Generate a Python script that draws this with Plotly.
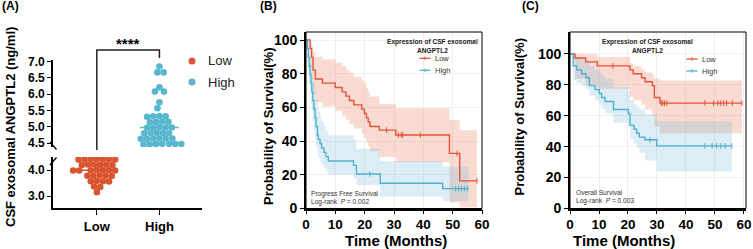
import numpy as np
import plotly.graph_objects as go

W, H = 753, 249
FONT = "Liberation Sans, Arial, sans-serif"

# ---------------- Panel A data ----------------
groups = ["Low", "High"]
low_vals = [4.42, 4.42, 4.41, 4.41, 4.41, 4.40, 4.40,
            4.21, 4.21, 4.20, 4.20, 4.19, 4.19,
            4.00, 3.99, 3.99, 3.99, 3.98, 3.98, 3.98,
            3.79, 3.78, 3.78, 3.78, 3.77,
            3.58, 3.57, 3.57, 3.56,
            3.37, 3.35,
            3.15]
high_vals = [6.85, 6.67, 6.67, 6.21, 6.08, 6.08, 5.75, 5.57,
             5.33, 5.32, 5.32, 5.31,
             5.16, 5.15, 5.15, 5.14,
             4.99, 4.98, 4.98, 4.98, 4.97,
             4.82, 4.81, 4.81, 4.80, 4.80,
             4.65, 4.64, 4.64, 4.64, 4.63, 4.63,
             4.48, 4.48, 4.47, 4.47, 4.47, 4.46, 4.46]
a_lower_ticks = [3.0, 4.0]
a_upper_ticks = [4.5, 5.0, 5.5, 6.0, 6.5, 7.0]

# ---------------- Panel B data (PFS) ----------------
b_low_t = [0, 1.4, 1.9, 2.4, 3.2, 5.6, 10.0, 12.3, 13.6, 14.8, 16.3, 19.0, 19.9, 20.6, 21.2, 21.8, 25.0, 30.6, 48.9, 52.4]
b_low_s = [100, 95.0, 89.7, 82.1, 76.9, 74.4, 71.8, 69.2, 66.7, 64.1, 61.5, 59.0, 56.4, 53.8, 51.3, 48.7, 46.5, 43.6, 32.7, 16.4]
b_low_up = [100, 100, 97, 93, 90, 88.5, 86.5, 84.5, 82.5, 80.5, 78, 76, 74, 71.5, 69, 66.5, 62, 59.5, 52.5, 46.5]
b_low_lo = [100, 84, 76, 68, 63, 60.5, 58, 55, 52.5, 50, 47.5, 44.5, 42, 39.5, 37, 34, 30.5, 27.5, 3.5, 0.8]
b_low_end = 58.3
b_low_cens = [27.5, 31.5, 32.5, 33.0, 39.0, 51.5, 58.3]

b_high_t = [0, 0.5, 0.8, 1.1, 1.4, 1.7, 2.0, 2.3, 2.7, 3.1, 3.4, 3.9, 4.2, 4.8, 5.3, 6.1, 6.8, 7.6, 16.2, 17.2, 25.3, 46.6]
b_high_s = [100, 94.9, 89.7, 84.6, 79.5, 74.4, 69.2, 64.1, 59.0, 53.8, 48.7, 43.6, 41.0, 38.5, 35.9, 33.3, 30.8, 28.2, 25.6, 20.5, 15.0, 11.8]
b_high_up = [100, 100, 97, 93.5, 90, 86, 82, 78, 74, 69.5, 65, 60, 57.5, 55, 52, 49, 46, 43.5, 41, 35.5, 28, 25]
b_high_lo = [100, 87, 80, 74, 68, 62.5, 57, 52, 46.5, 41.5, 37, 32.5, 30, 28, 26, 24, 22, 20, 18, 14, 7, 4.5]
b_high_end = 55.5
b_high_cens = [21.8, 51.0, 52.0, 53.0, 54.0, 55.0]

# ---------------- Panel C data (OS) ----------------
c_low_t = [0, 1.7, 5.4, 9.4, 20.7, 21.8, 24.7, 25.9, 28.4, 29.1, 31.0]
c_low_s = [100, 97.4, 94.9, 92.3, 89.7, 87.2, 84.6, 82.0, 79.5, 71.8, 68.2]
c_low_up = [100, 100, 100, 98, 94, 92, 90, 88, 86.5, 84, 82.8]
c_low_lo = [100, 84, 80, 77.5, 72.5, 70, 67, 64, 60, 53, 48.7]
c_low_end = 59.3
c_low_cens = [14.8, 31.5, 32.0, 32.6, 33.4, 46.5, 49.5, 51.0, 52.0, 53.0, 54.0, 56.0, 59.3]

c_high_t = [0, 1.1, 2.3, 4.0, 5.5, 6.7, 8.6, 10.1, 10.9, 12.1, 15.0, 20.1, 20.7, 22.1, 23.0, 23.9, 25.9, 29.9]
c_high_s = [100, 92.3, 89.7, 87.2, 84.6, 79.5, 76.9, 74.4, 71.8, 69.2, 64.1, 61.5, 53.8, 51.3, 48.7, 46.2, 44.5, 40.5]
c_high_up = [100, 100, 98, 96.5, 95, 92, 90, 88, 86, 84, 78.5, 76.5, 70, 67.5, 66, 64, 61, 56.5]
c_high_lo = [100, 83, 81, 79.5, 77, 73, 70, 67, 64.5, 61.5, 55.5, 52.5, 45, 42, 39.5, 36, 31, 24]
c_high_end = 55.8
c_high_cens = [27.6, 46.5, 49.0, 50.5, 52.0, 53.5, 55.8]

km_xticks = [0, 10, 20, 30, 40, 50, 60]
km_yticks = [0, 20, 40, 60, 80, 100]

RED = "#E4533A"
BLUE = "#4FB0CE"
DOT_RED = "#D9552F"
DOT_BLUE = "#58B6CE"
RED_FILL = "rgba(236,135,105,0.30)"
BLUE_FILL = "rgba(130,192,222,0.28)"


def px(x):
    return x / W


def py(y):
    return 1 - y / H


def beeswarm(vals, ppu_y, ppu_x, d):
    vals = np.asarray(vals, dtype=float)
    order = np.argsort(-vals, kind="stable")
    placed = []
    offs = np.zeros(len(vals))
    for k, i in enumerate(order):
        y = vals[i] * ppu_y
        forb = []
        for xp, yp in placed:
            dy = abs(y - yp)
            if dy < d:
                dx = np.sqrt(d * d - dy * dy)
                forb.append((xp - dx, xp + dx))
        cands = [0.0] + [a for a, b in forb] + [b for a, b in forb]
        sgn = 1 if k % 2 else -1
        cands = sorted(cands, key=lambda c: (round(abs(c), 6), sgn * c))
        xsel = 0.0
        for c in cands:
            if all(not (a + 1e-6 < c < b - 1e-6) for a, b in forb):
                xsel = c
                break
        placed.append((xsel, y))
        offs[i] = xsel / ppu_x
    return offs


def step_xy(t, v, end):
    xs, ys = [], []
    for i in range(len(t)):
        t1 = t[i + 1] if i + 1 < len(t) else end
        xs += [t[i], t1]
        ys += [v[i], v[i]]
    return xs, ys


def surv_at(t, s, c):
    idx = np.searchsorted(np.asarray(t), c, side="right") - 1
    return s[idx]


fig = go.Figure()

# ---------------- Panel A ----------------
A_X0, A_X1 = 53, 202
A_LOW_Y0, A_LOW_Y1 = 157, 208.3   # px (top, bottom)
A_UP_Y0, A_UP_Y1 = 60, 147
a_xrange = [-0.7, 1.68]
a_low_range = [2.53, 4.5]
a_up_range = [4.38, 7.05]
ppu_x = (A_X1 - A_X0) / (a_xrange[1] - a_xrange[0])
ppu_low = (A_LOW_Y1 - A_LOW_Y0) / (a_low_range[1] - a_low_range[0])
ppu_up = (A_UP_Y1 - A_UP_Y0) / (a_up_range[1] - a_up_range[0])

low_off = beeswarm(low_vals, ppu_low, ppu_x, 6.1)
high_off = beeswarm(high_vals, ppu_up, ppu_x, 6.2)

low_med = float(np.median(low_vals))
high_med = float(np.median(high_vals))
fig.add_trace(go.Scatter(x=[-0.33, 0.33], y=[low_med, low_med], mode="lines",
                         line=dict(color=DOT_RED, width=1.5), xaxis="x", yaxis="y",
                         showlegend=False, hoverinfo="skip"))
fig.add_trace(go.Scatter(x=0 + low_off, y=low_vals, mode="markers",
                         marker=dict(color=DOT_RED, size=6.6), xaxis="x", yaxis="y",
                         showlegend=False, name="Low"))
fig.add_trace(go.Scatter(x=1 + high_off, y=high_vals, mode="markers",
                         marker=dict(color=DOT_BLUE, size=6.6), xaxis="x", yaxis="y2",
                         showlegend=False, name="High"))
fig.add_trace(go.Scatter(x=[1 - 0.31, 1 + 0.31], y=[high_med, high_med], mode="lines",
                         line=dict(color=DOT_BLUE, width=1.5), xaxis="x", yaxis="y2",
                         showlegend=False, hoverinfo="skip"))

# ---------------- KM panels ----------------
def add_km(xa, ya, t, s, up, lo, end, cens, color, fill):
    xu, yu = step_xy(t, up, end)
    xl, yl = step_xy(t, lo, end)
    fig.add_trace(go.Scatter(x=xu + xl[::-1], y=yu + yl[::-1], fill="toself",
                             fillcolor=fill, line=dict(width=0), mode="lines",
                             xaxis=xa, yaxis=ya, showlegend=False, hoverinfo="skip"))


def add_km_line(xa, ya, t, s, end, cens, color):
    fig.add_trace(go.Scatter(x=list(t) + [end], y=list(s) + [s[-1]], mode="lines",
                             line=dict(color=color, width=1.4, shape="hv"),
                             xaxis=xa, yaxis=ya, showlegend=False))
    cy = [surv_at(t, s, c) for c in cens]
    fig.add_trace(go.Scatter(x=cens, y=cy, mode="markers",
                             marker=dict(symbol="line-ns", size=4,
                                         line=dict(color=color, width=1)),
                             xaxis=xa, yaxis=ya, showlegend=False))


add_km("x2", "y3", b_low_t, b_low_s, b_low_up, b_low_lo, b_low_end, b_low_cens, RED, RED_FILL)
add_km("x2", "y3", b_high_t, b_high_s, b_high_up, b_high_lo, b_high_end, b_high_cens, BLUE, BLUE_FILL)
add_km_line("x2", "y3", b_low_t, b_low_s, b_low_end, b_low_cens, RED)
add_km_line("x2", "y3", b_high_t, b_high_s, b_high_end, b_high_cens, BLUE)

add_km("x3", "y4", c_low_t, c_low_s, c_low_up, c_low_lo, c_low_end, c_low_cens, RED, RED_FILL)
add_km("x3", "y4", c_high_t, c_high_s, c_high_up, c_high_lo, c_high_end, c_high_cens, BLUE, BLUE_FILL)
add_km_line("x3", "y4", c_low_t, c_low_s, c_low_end, c_low_cens, RED)
add_km_line("x3", "y4", c_high_t, c_high_s, c_high_end, c_high_cens, BLUE)

# ---------------- Axes ----------------
axis_common = dict(showline=True, linecolor="black", linewidth=1.6, ticks="outside",
                   ticklen=4, tickwidth=1.4, tickcolor="black", zeroline=False,
                   showgrid=False, automargin=False)
A_BOLD12 = dict(family=FONT, size=12, color="black", weight="bold")
A_BOLD13 = dict(family=FONT, size=13, color="black", weight="bold")
KM_TICK = dict(family=FONT, size=14, color="black", weight="bold")
KM_XTICK = dict(family=FONT, size=13.5, color="black", weight="bold")

KM_Y0, KM_Y1 = 32, 208.5
B_X0, B_X1 = 306, 482
C_X0, C_X1 = 570, 746

grid = {"showgrid": True, "gridcolor": "#EFEFEF", "gridwidth": 0.8}

fig.update_layout(
    width=W, height=H, margin=dict(l=0, r=0, t=0, b=0, autoexpand=False),
    paper_bgcolor="white", plot_bgcolor="white", showlegend=False,
    font=dict(family=FONT),
    xaxis=dict(domain=[px(A_X0), px(A_X1)], anchor="y", range=a_xrange,
               tickvals=[0, 1], ticktext=groups, tickfont=A_BOLD13,
               **{**axis_common, "ticklen": 5}),
    yaxis=dict(domain=[py(A_LOW_Y1), py(A_LOW_Y0)], anchor="x", range=a_low_range,
               tickvals=a_lower_ticks, ticktext=[f"{v:.1f}" for v in a_lower_ticks],
               tickfont=A_BOLD12, **axis_common),
    yaxis2=dict(domain=[py(A_UP_Y1), py(A_UP_Y0)], anchor="x", range=a_up_range,
                tickvals=a_upper_ticks, ticktext=[f"{v:.1f}" for v in a_upper_ticks],
                tickfont=A_BOLD12, **axis_common),
    xaxis2=dict(domain=[px(B_X0), px(B_X1)], anchor="y3", range=[0, 60],
                tickvals=km_xticks, tickfont=KM_XTICK, ticklabelstandoff=-2,
                **{**axis_common, **grid}),
    yaxis3=dict(domain=[py(KM_Y1), py(KM_Y0)], anchor="x2", range=[0, 104.75],
                tickvals=km_yticks, tickfont=KM_TICK, **{**axis_common, **grid}),
    xaxis3=dict(domain=[px(C_X0), px(C_X1)], anchor="y4", range=[0, 60.7],
                tickvals=km_xticks, tickfont=KM_XTICK, ticklabelstandoff=-2,
                **{**axis_common, **grid}),
    yaxis4=dict(domain=[py(KM_Y1), py(KM_Y0)], anchor="x3", range=[0, 114.2],
                tickvals=km_yticks, tickfont=KM_TICK, **{**axis_common, **grid}),
)

shapes = []
annos = []

# Panel A: bracket, break marks
shapes.append(dict(type="path", xref="x", yref="paper",
                   path=f"M 0,{py(150)} L 0,{py(50)} L 1,{py(50)} L 1,{py(58)}",
                   line=dict(color="#222", width=1.5)))
shapes.append(dict(type="line", xref="paper", yref="paper",
                   x0=px(50), y0=py(142), x1=px(56.5), y1=py(149.5),
                   line=dict(color="black", width=1.3)))
shapes.append(dict(type="line", xref="paper", yref="paper",
                   x0=px(50), y0=py(165), x1=px(56.5), y1=py(157.5),
                   line=dict(color="black", width=1.3)))

annos.append(dict(text="****", x=0.5, xref="x", y=py(33), yref="paper", yanchor="top",
                  showarrow=False, font=dict(family=FONT, size=15, color="black", weight="bold")))
annos.append(dict(text="(A)", x=px(0), y=py(6.5), xref="paper", yref="paper",
                  xanchor="left", yanchor="middle", showarrow=False,
                  font=dict(family=FONT, size=12, color="black", weight="bold")))
annos.append(dict(text="CSF exosomal ANGPTL2 (ng/ml)", textangle=-90, x=px(10), y=py(127),
                  xref="paper", yref="paper", xanchor="center", yanchor="middle",
                  showarrow=False, font=dict(family=FONT, size=13, color="black", weight="bold")))
# Panel A legend
for lab, col, yy in [("Low", DOT_RED, 61), ("High", DOT_BLUE, 82)]:
    shapes.append(dict(type="circle", xref="paper", yref="paper",
                       x0=px(188.5), x1=px(195.5), y0=py(yy + 3.5), y1=py(yy - 3.5),
                       fillcolor=col, line=dict(width=0)))
    annos.append(dict(text=lab, x=px(206), y=py(yy), xref="paper", yref="paper",
                      xanchor="left", yanchor="middle", showarrow=False,
                      font=dict(family=FONT, size=13, color="#222")))

# KM panel decorations
def km_decor(xd, yd, letter, lx, ytitle_x, ytitle_y, xtitle_x, leg_cx, leg_lx, leg_y,
             note1, note2, note_x, note_y):
    shapes.append(dict(type="rect", xref=f"{xd} domain", yref=f"{yd} domain",
                       x0=0, x1=1, y0=0, y1=1, line=dict(color="black", width=1)))
    annos.append(dict(text=letter, x=px(lx), y=py(6.5), xref="paper", yref="paper",
                      xanchor="left", yanchor="middle", showarrow=False,
                      font=dict(family=FONT, size=12, color="black", weight="bold")))
    annos.append(dict(text="Probability of Survival(%)", textangle=-90, x=px(ytitle_x),
                      y=py(ytitle_y), xref="paper", yref="paper", showarrow=False,
                      font=dict(family=FONT, size=13, color="black", weight="bold")))
    annos.append(dict(text="Time (Months)", x=px(xtitle_x), y=py(250), xref="paper",
                      yref="paper", yanchor="bottom", showarrow=False, borderpad=0,
                      font=dict(family=FONT, size=15, color="black", weight="bold")))
    annos.append(dict(text="Expression of CSF exosomal<br>ANGPTL2", x=px(leg_cx), y=py(36),
                      xref="paper", yref="paper", yanchor="top", showarrow=False,
                      font=dict(family=FONT, size=6.6, color="#222", weight="bold")))
    for lab, col, yy in [("Low", RED, leg_y), ("High", BLUE, leg_y + 12)]:
        shapes.append(dict(type="line", xref="paper", yref="paper", x0=px(leg_lx),
                           x1=px(leg_lx + 11), y0=py(yy), y1=py(yy),
                           line=dict(color=col, width=1.3)))
        shapes.append(dict(type="line", xref="paper", yref="paper", x0=px(leg_lx + 5.5),
                           x1=px(leg_lx + 5.5), y0=py(yy - 1.8), y1=py(yy + 1.8),
                           line=dict(color=col, width=1)))
        annos.append(dict(text=lab, x=px(leg_lx + 13.5), y=py(yy), xref="paper",
                          yref="paper", xanchor="left", yanchor="middle", showarrow=False,
                          font=dict(family=FONT, size=7.5, color="#333")))
    annos.append(dict(text=note1, x=px(note_x), y=py(note_y), xref="paper", yref="paper",
                      xanchor="left", yanchor="middle", showarrow=False,
                      font=dict(family=FONT, size=6.6, color="#333")))
    annos.append(dict(text=note2, x=px(note_x), y=py(note_y + 8), xref="paper", yref="paper",
                      xanchor="left", yanchor="middle", showarrow=False,
                      font=dict(family=FONT, size=6.6, color="#333")))


km_decor("x2", "y3", "(B)", 258, 268, 127, 396, 432.5, 419.5, 58.3,
         "Progress Free Survival", "Log-rank  <i>P</i> = 0.002", 308.5, 194)
km_decor("x3", "y4", "(C)", 520, 528, 117, 676, 695, 686.5, 59,
         "Overall Survival", "Log-rank  <i>P</i> = 0.003", 573.5, 192.5)

fig.update_layout(shapes=shapes, annotations=annos)
fig.write_html("out.html")
